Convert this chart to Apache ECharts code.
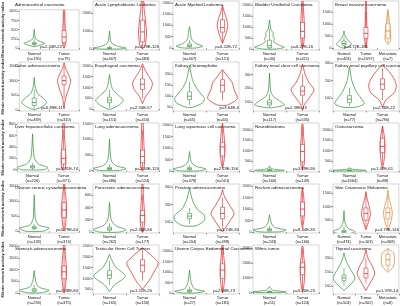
<!DOCTYPE html>
<html>
<head>
<meta charset="utf-8">
<script src="https://cdn.jsdelivr.net/npm/echarts@6/dist/echarts.min.js"></script>
<style>
  html, body { margin: 0; padding: 0; background: #fff; }
  #chart { width: 400px; height: 306px; }
</style>
</head>
<body>
<div id="chart"></div>
<script>
// panel titles, row by row
const titles = [
  'Adrenocortical carcinoma', 'Acute Lymphoblastic Leukemia', 'Acute Myeloid Leukemia', 'Bladder Urothelial Carcinoma', 'Breast invasive carcinoma',
  'Colon adenocarcinoma', 'Esophageal carcinoma', 'Kidney Chromophobe', 'Kidney renal clear cell carcinoma', 'Kidney renal papillary cell carcinoma',
  'Liver hepatocellular carcinoma', 'Lung adenocarcinoma', 'Lung squamous cell carcinoma', 'Neuroblastoma', 'Osteosarcoma',
  'Ovarian serous cystadenocarcinoma', 'Pancreatic adenocarcinoma', 'Prostate adenocarcinoma', 'Rectum adenocarcinoma', 'Skin Cutaneous Melanoma',
  'Stomach adenocarcinoma', 'Testicular Germ Cell Tumors', 'Uterine Corpus Endometrial Carcinoma', 'Wilms tumor', 'Thyroid carcinoma'
]
const groupNames = ['Normal', 'Tumor', 'Metastatic']
const counts = [
  [190, 79], [407, 483], [407, 151], [30, 411], [403, 1097, 7],
  [469, 310], [151, 416], [65, 65], [117, 535], [77, 290],
  [226, 371], [486, 524], [478, 501], [160, 149], [1664, 88],
  [133, 374], [262, 177], [204, 498], [243, 166], [474, 103, 368],
  [294, 375], [165, 156], [27, 181], [51, 124], [504, 502, 8]
]
const pValues = [
  'p=2.44E-22', 'p=4.29E-126', 'p=6.22E-72', 'p=6.27E-16', 'p=4.72E-181',
  'p=6.89E-115', 'p=2.34E-57', 'p=3.64E-5', 'p=2.39E-45', 'p=2.36E-22',
  'p=3.91E-74', 'p=2.34E-120', 'p=2.23E-156', 'p=3.19E-90', 'p=1.42E-61',
  'p=5.79E-64', 'p=2.45E-56', 'p=3.74E-30', 'p=8.44E-35', 'p=4.79E-146',
  'p=2.38E-84', 'p=1.21E-20', 'p=2.09E-73', 'p=5.20E-25', 'p=1.37E-14'
]
const yMins = [-50, -55, -90, -45, -90, -40, -90, 33, 36, 28, -40, -50, -50, -50, -50, -60, -15, 39, -50, 30, -50, 290, -50, -100, 72]
const yMaxs = [1040, 2670, 2080, 2180, 1950, 1630, 2180, 255, 390, 305, 820, 1520, 2100, 2350, 2350, 1560, 780, 317, 2100, 1830, 2050, 2520, 2300, 3200, 248]
const yTicks = [
  [0, 250, 500, 750, 1000], [0, 1000, 2000], [0, 500, 1000, 1500, 2000], [0, 500, 1000, 1500, 2000], [0, 500, 1000, 1500],
  [0, 500, 1000, 1500], [0, 500, 1000, 1500, 2000], [50, 100, 150, 200], [100, 200, 300], [100, 200, 300],
  [0, 200, 400, 600, 800], [0, 500, 1000, 1500], [0, 500, 1000, 1500, 2000], [0, 500, 1000, 1500, 2000], [0, 500, 1000, 1500, 2000],
  [0, 500, 1000, 1500], [0, 200, 400, 600], [100, 200, 300], [0, 500, 1000, 1500, 2000], [500, 1000, 1500],
  [0, 500, 1000, 1500, 2000], [500, 1000, 1500, 2000, 2500], [0, 500, 1000, 1500, 2000], [0, 1000, 2000, 3000], [100, 150, 200]
]
// violin outlines: [value, half width as share of the category band]
const normalShapes = [
  [[40, 0], [70, 0.15], [130, 0.35], [180, 0.2], [250, 0.05], [350, 0.02], [510, 0]],
  [[0, 0.3], [50, 0.5], [150, 0.25], [300, 0.08], [500, 0.03], [1000, 0]],
  [[0, 0.2], [80, 0.4], [200, 0.2], [400, 0.06], [700, 0.03], [950, 0]],
  [[0, 0.2], [80, 0.45], [200, 0.25], [350, 0.12], [450, 0.15], [600, 0.1], [700, 0.12], [900, 0.04], [1100, 0.02], [1320, 0]],
  [[0, 0.1], [150, 0.34], [300, 0.2], [500, 0.05], [700, 0]],
  [[0, 0], [100, 0.25], [250, 0.42], [400, 0.3], [550, 0.12], [800, 0.03], [1100, 0]],
  [[0, 0.05], [200, 0.3], [400, 0.42], [600, 0.3], [900, 0.1], [1200, 0.04], [1600, 0]],
  [[50, 0.1], [70, 0.4], [90, 0.45], [110, 0.35], [140, 0.2], [170, 0.1], [200, 0.05], [240, 0]],
  [[60, 0.1], [80, 0.45], [110, 0.3], [140, 0.12], [170, 0.05], [220, 0.02], [310, 0]],
  [[50, 0.2], [70, 0.45], [100, 0.35], [140, 0.2], [200, 0.07], [280, 0]],
  [[0, 0.35], [40, 0.5], [100, 0.2], [200, 0.06], [400, 0.02], [630, 0]],
  [[0, 0.3], [60, 0.5], [150, 0.2], [300, 0.06], [600, 0.02], [1000, 0]],
  [[0, 0.3], [80, 0.5], [200, 0.2], [400, 0.05], [850, 0]],
  [[0, 0.3], [30, 0.45], [80, 0.15], [150, 0.03], [250, 0]],
  [[0, 0.4], [30, 0.5], [80, 0.1], [150, 0]],
  [[0, 0.3], [100, 0.5], [200, 0.15], [400, 0.04], [700, 0.02], [1200, 0]],
  [[0, 0.3], [40, 0.5], [100, 0.2], [200, 0.05], [480, 0]],
  [[80, 0.2], [110, 0.45], [140, 0.45], [170, 0.25], [220, 0.1], [290, 0]],
  [[0, 0.3], [80, 0.5], [200, 0.15], [400, 0.05], [750, 0]],
  [[0, 0.2], [80, 0.5], [200, 0.2], [400, 0.05], [850, 0]],
  [[0, 0.2], [100, 0.5], [250, 0.15], [500, 0.05], [950, 0]],
  [[400, 0], [700, 0.15], [1100, 0.48], [1500, 0.2], [1800, 0.08], [2100, 0]],
  [[0, 0.2], [80, 0.45], [200, 0.15], [500, 0.05], [1100, 0]],
  [[0, 0.4], [50, 0.5], [150, 0.1], [300, 0.03], [400, 0]],
  [[85, 0], [110, 0.35], [130, 0.5], [160, 0.3], [190, 0.1], [220, 0]]
]
const tumorShapes = [
  [[0, 0], [50, 0.03], [200, 0.055], [350, 0.055], [500, 0.045], [700, 0.03], [1000, 0.02], [1040, 0.02]],
  [[0, 0], [200, 0.08], [900, 0.12], [1600, 0.09], [2200, 0.05], [2670, 0.03]],
  [[200, 0], [400, 0.05], [700, 0.12], [1000, 0.16], [1300, 0.12], [1600, 0.05], [1900, 0]],
  [[0, 0], [300, 0.04], [800, 0.06], [1300, 0.05], [1800, 0.03], [2180, 0.015]],
  [[0, 0], [200, 0.04], [550, 0.065], [900, 0.04], [1500, 0.025], [1950, 0.015]],
  [[100, 0], [400, 0.05], [700, 0.15], [1000, 0.22], [1200, 0.15], [1400, 0.06], [1600, 0]],
  [[250, 0], [600, 0.1], [900, 0.25], [1200, 0.3], [1500, 0.2], [1800, 0.08], [2100, 0]],
  [[60, 0.15], [90, 0.45], [130, 0.35], [160, 0.3], [190, 0.15], [220, 0]],
  [[40, 0], [80, 0.05], [130, 0.2], [190, 0.35], [240, 0.2], [300, 0.08], [375, 0]],
  [[50, 0], [90, 0.1], [130, 0.35], [170, 0.42], [210, 0.35], [250, 0.2], [290, 0]],
  [[0, 0.04], [100, 0.075], [250, 0.075], [400, 0.055], [600, 0.03], [820, 0.02]],
  [[0, 0.02], [200, 0.06], [500, 0.06], [800, 0.045], [1200, 0.03], [1520, 0.02]],
  [[100, 0], [400, 0.04], [800, 0.075], [1100, 0.075], [1500, 0.05], [1900, 0.02], [2100, 0]],
  [[50, 0], [300, 0.05], [800, 0.06], [1300, 0.055], [1800, 0.03], [2300, 0.015]],
  [[100, 0], [500, 0.045], [1000, 0.075], [1400, 0.075], [1800, 0.045], [2200, 0]],
  [[0, 0], [200, 0.045], [600, 0.08], [1000, 0.07], [1300, 0.035], [1560, 0.015]],
  [[0, 0.015], [100, 0.055], [250, 0.07], [400, 0.05], [600, 0.025], [780, 0.015]],
  [[45, 0], [100, 0.2], [150, 0.35], [200, 0.2], [250, 0.05], [285, 0]],
  [[150, 0], [500, 0.04], [900, 0.06], [1300, 0.05], [1700, 0.025], [1950, 0]],
  [[150, 0], [400, 0.1], [700, 0.2], [1000, 0.15], [1300, 0.05], [1550, 0]],
  [[0, 0], [300, 0.045], [800, 0.08], [1200, 0.07], [1700, 0.035], [2050, 0.02]],
  [[500, 0], [900, 0.2], [1300, 0.35], [1700, 0.48], [2000, 0.3], [2400, 0]],
  [[0, 0], [300, 0.04], [800, 0.07], [1300, 0.07], [1800, 0.035], [2300, 0.015]],
  [[0, 0], [500, 0.04], [1200, 0.07], [1800, 0.07], [2500, 0.035], [3100, 0.015]],
  [[85, 0], [120, 0.25], [145, 0.4], [170, 0.3], [200, 0.1], [230, 0]]
]
const metaShapes = {
  4: [[150, 0], [300, 0.12], [600, 0.12], [1000, 0.08], [1300, 0.04], [1600, 0]],
  19: [[150, 0], [400, 0.12], [750, 0.2], [1000, 0.15], [1300, 0.05], [1600, 0]],
  24: [[150, 0], [170, 0.25], [200, 0.3], [220, 0.25], [235, 0]]
}
// boxes: [lower whisker, Q1, median, Q3, upper whisker]
const normalBoxes = [
  [50, 100, 120, 150, 250], [0, 20, 50, 90, 180], [0, 50, 100, 180, 350], [0, 60, 150, 400, 900], [50, 120, 180, 280, 450],
  [20, 150, 250, 400, 700], [50, 300, 420, 550, 900], [60, 85, 100, 120, 165], [60, 80, 95, 115, 160], [55, 75, 95, 115, 160],
  [0, 30, 50, 70, 120], [0, 30, 60, 100, 200], [0, 50, 90, 140, 250], [0, 20, 40, 70, 130], [0, 10, 30, 50, 90],
  [30, 80, 110, 150, 250], [0, 30, 50, 80, 140], [90, 120, 135, 150, 180], [0, 50, 90, 140, 250], [0, 40, 80, 130, 250],
  [0, 60, 120, 180, 350], [700, 1000, 1150, 1350, 1800], [0, 50, 100, 150, 300], [0, 20, 50, 80, 150], [100, 120, 130, 140, 165]
]
const tumorBoxes = [
  [0, 150, 300, 480, 1000], [0, 400, 950, 1600, 2650], [250, 700, 900, 1250, 1800], [0, 500, 800, 1200, 2100], [0, 400, 600, 850, 1500],
  [400, 850, 1000, 1150, 1500], [500, 900, 1150, 1400, 2000], [80, 120, 150, 175, 220], [80, 150, 180, 215, 300], [90, 150, 180, 210, 270],
  [0, 100, 200, 350, 700], [0, 250, 450, 650, 1300], [200, 650, 1050, 1250, 2000], [50, 450, 950, 1300, 2200], [300, 900, 1200, 1600, 2200],
  [100, 450, 700, 950, 1500], [0, 160, 270, 350, 600], [70, 120, 150, 185, 240], [300, 700, 1000, 1300, 1900], [200, 500, 750, 950, 1400],
  [0, 600, 900, 1150, 1900], [900, 1300, 1600, 1850, 2300], [0, 700, 1100, 1400, 2200], [200, 1200, 1700, 2000, 3000], [110, 130, 145, 165, 200]
]
const metaBoxes = {
  4: [200, 400, 700, 1000, 1400],
  19: [250, 550, 780, 950, 1400],
  24: [155, 175, 195, 215, 235]
}
// gap between the end of the p-value text and the right edge of the plot, px
const pGap = [
  17, 0, 2, 6, 31,
  14, 7, 0, 12, 4,
  1, 0, 1, 4, 6,
  1, 7, 0, 4, 0,
  1, 7, 4, 4, 1
]

const colors = ['#3a9140', '#e8252a', '#d9862e']
const font = 'Liberation Sans, Arial, sans-serif'

var grids = [], xAxes = [], yAxes = [], series = [], titleList = []

function violinSeries(panel, cat, shape, box, color) {
  return {
    type: 'custom',
    xAxisIndex: panel,
    yAxisIndex: panel,
    clip: true,
    silent: true,
    data: [[cat]],
    renderItem: function (params, api) {
      let band = api.size([1, 0])[0]
      let right = [], left = []
      shape.forEach(function (s) {
        let p = api.coord([cat, s[0]])
        right.push([p[0] + s[1] * band, p[1]])
        left.unshift([p[0] - s[1] * band, p[1]])
      })
      let c = api.coord([cat, box[2]])
      let lo = api.coord([cat, box[0]])[1]
      let q1 = api.coord([cat, box[1]])[1]
      let q3 = api.coord([cat, box[3]])[1]
      let hi = api.coord([cat, box[4]])[1]
      let bw = 2
      let line = { stroke: color, lineWidth: 0.6, fill: null }
      return {
        type: 'group',
        children: [
          { type: 'polygon', shape: { points: right.concat(left), smooth: 0.25 }, style: { fill: '#fff', stroke: color, lineWidth: 0.75 } },
          { type: 'line', shape: { x1: c[0], y1: lo, x2: c[0], y2: q1 }, style: line },
          { type: 'line', shape: { x1: c[0], y1: q3, x2: c[0], y2: hi }, style: line },
          { type: 'rect', shape: { x: c[0] - bw, y: q3, width: bw * 2, height: q1 - q3 }, style: { fill: '#fff', stroke: color, lineWidth: 0.6 } },
          { type: 'line', shape: { x1: c[0] - bw, y1: c[1], x2: c[0] + bw, y2: c[1] }, style: { stroke: color, lineWidth: 0.8 } }
        ]
      }
    }
  }
}

for (let i = 0; i < 25; i++) {
  let row = Math.floor(i / 5), col = i % 5
  let n = counts[i].length
  let left = col * 80 + 13, top = row * 61 + 1
  grids.push({ left: left, top: top, width: 66, height: 49, show: true, borderColor: '#aaaaaa', borderWidth: 0.5 })
  titleList.push({
    text: titles[i], left: left + 2, top: top + 1.5, padding: 0,
    textStyle: { fontSize: 4.4, fontWeight: 'normal', color: '#111', fontFamily: font }
  })
  titleList.push({
    text: pValues[i], right: 400 - (left + 66 - pGap[i]), top: top + 44, padding: 0,
    textStyle: { fontSize: 4.2, fontWeight: 'normal', color: '#111', fontFamily: font }
  })
  xAxes.push({
    gridIndex: i, type: 'category',
    data: counts[i].map((c, k) => groupNames[k] + '\n(n=' + c + ')'),
    axisLine: { show: false }, axisTick: { show: true, length: 1.5, lineStyle: { color: '#333', width: 0.5 } },
    axisLabel: { fontSize: 4, lineHeight: 5, margin: 1.5, color: '#111', fontFamily: font, interval: 0 }
  })
  yAxes.push({
    gridIndex: i, type: 'value', min: yMins[i], max: yMaxs[i],
    splitLine: { show: false },
    axisLine: { show: false },
    axisTick: { show: true, length: 1.5, customValues: yTicks[i], lineStyle: { color: '#333', width: 0.5 } },
    axisLabel: { fontSize: 4, margin: 1.5, color: '#333', fontFamily: font, customValues: yTicks[i], formatter: v => String(v) },
    name: col === 0 ? 'Mitotic network activity index' : '',
    nameLocation: 'middle', nameGap: 8,
    nameTextStyle: { fontSize: 4, fontWeight: 'bold', color: '#222', fontFamily: font }
  })
  series.push(violinSeries(i, 0, normalShapes[i], normalBoxes[i], colors[0]))
  series.push(violinSeries(i, 1, tumorShapes[i], tumorBoxes[i], colors[1]))
  if (n === 3) series.push(violinSeries(i, 2, metaShapes[i], metaBoxes[i], colors[2]))
}

var myChart = echarts.init(document.getElementById('chart'))
myChart.setOption({
  animation: false,
  backgroundColor: '#fff',
  title: titleList,
  grid: grids,
  xAxis: xAxes,
  yAxis: yAxes,
  series: series
})
</script>
</body>
</html>
